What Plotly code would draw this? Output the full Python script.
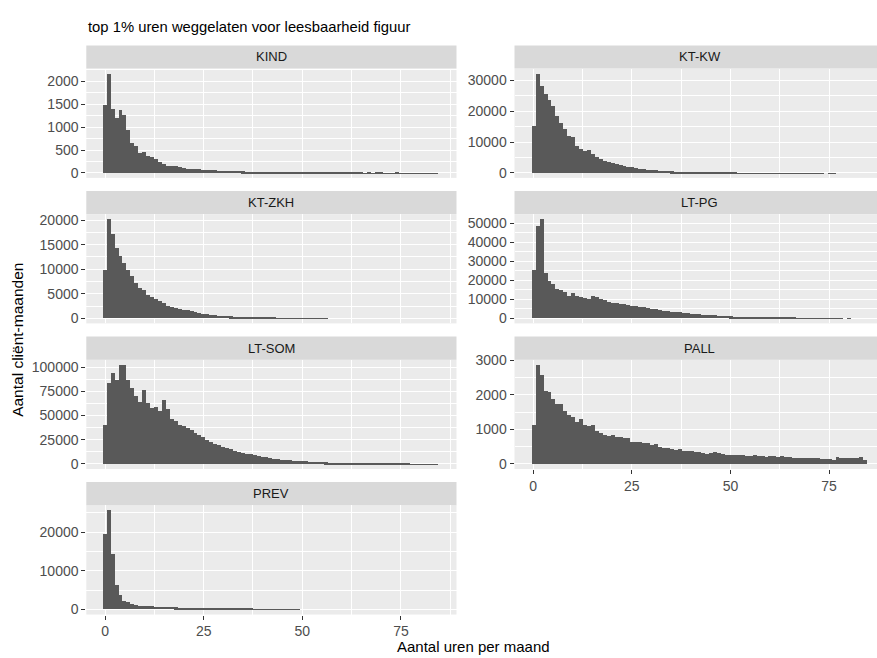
import plotly.graph_objects as go

# ---- data: number of client-months per hour bin (bin centres 0..84) ----
hours = list(range(85))

kind = [1500, 2170, 1400, 1205, 1380, 1280, 950, 670, 600, 440, 470, 370, 355, 315, 240, 215, 170, 165, 150, 130,
        110, 105, 100, 95, 85,
        80, 75, 70, 65, 60, 58, 55, 50, 48, 45, 42, 40, 38, 35, 34, 32, 30, 28, 27, 26, 25, 24, 40, 22, 21,
        20, 18, 15, 17, 14, 12, 15, 10, 12, 9, 10, 12, 8, 15, 9, 8, 7, 10, 6, 8, 9, 5, 7, 6, 8, 5, 6, 7, 4, 5,
        6, 4, 5, 4, 3]

ktkw = [15500, 32200, 28200, 25600, 23900, 21700, 18600, 16300, 14500, 12200, 11700, 8900, 8000, 7300, 7600,
        6300, 5200, 4600, 4100, 3700, 3300, 3000, 2700, 2400, 2100,
        1900, 1700, 1500, 1350, 1200, 1080, 970, 870, 780, 700, 630, 570, 510, 460, 410, 370, 330, 300, 270, 240,
        215, 195, 175, 160, 145,
        130, 118, 106, 96, 87, 79, 72, 65, 59, 53, 48, 44, 40, 36, 33, 30, 27, 25, 23, 21, 19, 17, 15, 14, 0,
        12, 10, 0, 0, 0, 0, 0, 0, 0, 0]

ktzkh = [9900, 20200, 17200, 14200, 12600, 11300, 9800, 8600, 7200, 6150, 5800, 4800, 4300, 3900, 3600, 3100,
         2600, 2350, 2150, 1950, 1750, 1600, 1400, 1200, 1070, 940,
         820, 720, 640, 560, 490, 430, 380, 330, 290, 250, 220, 190, 165, 145, 125, 108, 92, 80, 70, 60, 52, 45,
         40, 35, 30, 26, 22, 19, 16, 13, 10,
         0, 0, 0, 0, 0, 0, 0, 0, 0, 0, 0, 0, 0, 0, 0, 0, 0, 0, 0, 0, 0, 0, 0, 0, 0, 0, 0, 0]

ltpg = [25500, 48300, 52200, 23800, 19500, 18100, 15500, 14700, 14100, 12000, 13400, 12000, 11200, 10700, 10300,
        11700, 11200, 10300, 9500, 8600, 8300, 8100, 7800, 7400, 7100, 6700, 6400, 6000, 5700, 5300, 5000,
        4700, 4400, 4100, 3800, 3500, 3300, 3100, 2900, 2700,
        2500, 2300, 2100, 1950, 1800, 1650, 1500, 1380, 1260, 1150,
        1050, 960, 870, 790, 720, 650, 590, 530, 480, 430,
        390, 350, 310, 280, 250, 220, 195, 170, 150, 130,
        115, 100, 88, 77, 67, 58, 50, 43, 37,
        0, 30, 0, 0, 0, 0]

ltsom = [41000, 84000, 94000, 87000, 102500, 102500, 87000, 79000, 71000, 64500, 77000, 63500, 58000, 59000,
         55000, 66000, 57000, 47000, 45000, 41000,
         40000, 37000, 35500, 32000, 30000, 28500, 25000, 23000, 21500, 20000,
         18000, 16500, 15500, 14000, 13000, 12000, 11000, 10200, 9400, 8600,
         7900, 7200, 6600, 6000, 5500, 5000, 4600, 4200, 3800, 3500,
         3200, 2950, 2700, 2500, 2300, 2100, 1950, 1800, 1650, 1500,
         1400, 1300, 1200, 1100, 1020, 950, 880, 820, 760, 700,
         650, 600, 560, 520, 480, 450, 420, 390, 360, 340, 320, 300, 280, 260, 240]

pall = [1150, 2880, 2580, 2140, 2100, 1890, 1760, 1750, 1560, 1430, 1370, 1230, 1300, 1130, 1110, 1130, 970, 920,
        850, 820, 850, 800, 800, 770, 750,
        640, 640, 640, 610, 610, 550, 600, 490, 470, 470, 450, 420, 450, 400, 380, 380, 360, 350, 330, 300, 330,
        360, 330, 300, 280,
        280, 260, 280, 260, 250, 240, 260, 250, 230, 220, 250, 240, 220, 230, 210, 210, 190, 190, 180, 170, 170,
        190, 170, 160, 150,
        160, 140, 210, 170, 190, 170, 170, 190, 210, 140]

prev = [19600, 25700, 14300, 6400, 3600, 2200, 1800, 1350, 1200, 950, 850, 800, 750, 720, 700, 680, 650,
        550, 480, 450, 420, 400, 380, 350, 330, 300, 270, 250, 230, 210, 190, 175, 160, 145, 130, 118, 106,
        95, 85, 76, 68, 60, 53, 47, 42, 37, 33, 29, 25, 20,
        0, 0, 0, 0, 0, 0, 0, 0, 0, 0, 0, 0, 0, 0, 0, 0, 0, 0, 0, 0, 0, 0, 0, 0, 0, 0, 0, 0, 0, 0, 0, 0, 0, 0, 0]

labels = ["KIND", "KT-KW", "KT-ZKH", "LT-PG", "LT-SOM", "PALL", "PREV"]
series = [kind, ktkw, ktzkh, ltpg, ltsom, pall, prev]
ysteps = [500, 10000, 5000, 10000, 25000, 1000, 10000]
x_ticks = [0, 25, 50, 75]

title = "top 1% uren weggelaten voor leesbaarheid figuur"
x_title = "Aantal uren per maand"
y_title = "Aantal cliënt-maanden"

# ---- layout geometry (pixels) ----
W, H = 877, 658
FONT = "Liberation Sans, Arial, sans-serif"
col_x = [(86.3, 456.5), (514.5, 877.0)]
px_per_unit = 3.945
row_top = [62.5, 210.3, 358.1, 505.9]
panel_h = 111.0
strip_h = 23.5
positions = [(0, 0), (0, 1), (1, 0), (1, 1), (2, 0), (2, 1), (3, 0)]
bottom_panels = {"PALL", "PREV"}
TICKFONT = 14

fig = go.Figure()
layout = dict(
    width=W, height=H,
    margin=dict(l=0, r=0, t=0, b=0),
    paper_bgcolor="white",
    plot_bgcolor="#EBEBEB",
    bargap=0,
    showlegend=False,
    font=dict(family=FONT),
)
shapes = []
annotations = []

for k, (lab, vals, step, (r, c)) in enumerate(zip(labels, series, ysteps, positions), start=1):
    xa = "x" if k == 1 else f"x{k}"
    ya = "y" if k == 1 else f"y{k}"
    fig.add_trace(go.Bar(
        x=hours, y=vals, width=1.0,
        marker=dict(color="#595959", line=dict(width=0)),
        xaxis=xa, yaxis=ya, hoverinfo="x+y",
    ))
    x0, x1 = col_x[c]
    top = row_top[r]
    bot = top + panel_h
    xmin = -4.75
    xmax = xmin + (x1 - x0) / px_per_unit
    ymax = max(vals)
    is_bottom = lab in bottom_panels
    layout["xaxis" if k == 1 else f"xaxis{k}"] = dict(
        domain=[x0 / W, x1 / W], anchor=ya, range=[xmin, xmax],
        tickmode="array", tickvals=x_ticks, ticktext=[str(t) for t in x_ticks],
        showticklabels=is_bottom,
        ticks="outside" if is_bottom else "", ticklen=4, tickwidth=1, tickcolor="#333333",
        tickfont=dict(size=TICKFONT, color="#4D4D4D", family=FONT),
        showgrid=True, gridcolor="white", gridwidth=1.3, zeroline=False, showline=False,
        minor=dict(tickmode="array", tickvals=[12.5, 37.5, 62.5, 87.5], showgrid=True,
                   gridcolor="white", gridwidth=0.6, ticks=""),
    )
    layout["yaxis" if k == 1 else f"yaxis{k}"] = dict(
        domain=[1 - bot / H, 1 - top / H], anchor=xa,
        range=[-0.05 * ymax, 1.05 * ymax],
        tickmode="linear", tick0=0, dtick=step, tickformat="d",
        ticks="outside", ticklen=4, tickwidth=1, tickcolor="#333333",
        tickfont=dict(size=TICKFONT, color="#4D4D4D", family=FONT),
        showgrid=True, gridcolor="white", gridwidth=1.3, zeroline=False, showline=False,
        minor=dict(tick0=step / 2, dtick=step, showgrid=True, gridcolor="white", gridwidth=0.6, ticks=""),
    )
    shapes.append(dict(type="rect", xref="paper", yref="paper",
                       x0=x0 / W, x1=x1 / W, y0=1 - top / H, y1=1 - (top - strip_h) / H,
                       fillcolor="#D9D9D9", line=dict(width=0), layer="below"))
    centre = (x0 + x1) / 2 if c == 0 else (x0 + 884.7) / 2
    annotations.append(dict(text=lab, xref="paper", yref="paper",
                            x=centre / W, y=1 - (top - strip_h / 2) / H,
                            xanchor="center", yanchor="middle", showarrow=False,
                            font=dict(size=13, color="#1A1A1A", family=FONT)))

annotations.append(dict(text=title, xref="paper", yref="paper", x=86 / W, y=1 - 20 / H,
                        xanchor="left", yanchor="middle", showarrow=False,
                        font=dict(size=14.8, color="black", family=FONT)))
annotations.append(dict(text=x_title, xref="paper", yref="paper", x=474 / W, y=1 - 649 / H,
                        xanchor="center", yanchor="middle", showarrow=False,
                        font=dict(size=15, color="black", family=FONT)))
annotations.append(dict(text=y_title, xref="paper", yref="paper", x=18 / W, y=1 - 338 / H,
                        xanchor="center", yanchor="middle", showarrow=False, textangle=-90,
                        font=dict(size=15.5, color="black", family=FONT)))

layout["shapes"] = shapes
layout["annotations"] = annotations
fig.update_layout(**layout)
pin = ("document.documentElement.style.margin='0px';document.body.style.margin='0px';"
       "document.body.style.padding='0px';document.body.style.overflow='hidden';"
       "var d=document.getElementById('{plot_id}');d.style.position='fixed';"
       "d.style.left='0px';d.style.top='0px';")
fig.write_html("out.html", config={"displayModeBar": False}, post_script=pin)
